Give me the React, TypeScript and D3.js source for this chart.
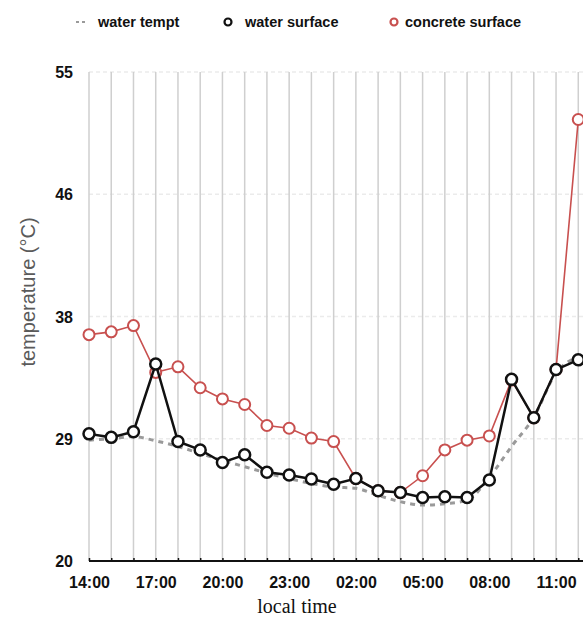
import React, { useEffect, useRef } from 'react';
import * as d3 from 'd3';

const hours = [
  '14:00', '15:00', '16:00', '17:00', '18:00', '19:00', '20:00', '21:00', '22:00', '23:00',
  '00:00', '01:00', '02:00', '03:00', '04:00', '05:00', '06:00', '07:00', '08:00', '09:00',
  '10:00', '11:00', '12:00',
];
const tickHours = ['14:00', '17:00', '20:00', '23:00', '02:00', '05:00', '08:00', '11:00'];
const yTicks = [20, 28.75, 37.5, 46.25, 55];

const waterTempt = [
  28.65, 28.75, 28.9, 28.6, 28.2, 27.7, 27.2, 26.75, 26.3, 25.9, 25.55, 25.3,
  25.2, 24.7, 24.25, 24.0, 24.1, 24.35, 26.0, 28.2, 30.3, 33.45, 34.6,
];
const waterSurface = [
  29.1, 28.85, 29.25, 34.1, 28.55, 27.95, 27.05, 27.6, 26.35, 26.15, 25.87, 25.5,
  25.9, 25.03, 24.9, 24.55, 24.6, 24.55, 25.8, 33.0, 30.25, 33.7, 34.4,
];
const concreteSurface = [
  36.2, 36.4, 36.85, 33.5, 33.9, 32.4, 31.6, 31.2, 29.7, 29.5, 28.8, 28.55,
  25.9, 25.03, 24.9, 26.1, 27.95, 28.65, 28.95, 32.95, 30.25, 33.7, 51.6,
];

const RED = '#c8504f';
const BLACK = '#111111';
const GREY = '#9a9a9a';

const App: React.FC = () => {
  const svgRef = useRef<SVGSVGElement | null>(null);

  useEffect(() => {
    if (!svgRef.current) return;
    const svg = d3.select(svgRef.current);
    svg.selectAll('*').remove();

    const width = 583;
    const height = 619;
    const margin = { top: 72, left: 89, bottom: 58 };
    const innerHeight = height - margin.top - margin.bottom;

    const x = d3.scalePoint<string>()
      .domain(hours)
      .range([margin.left, margin.left + 22.24 * (hours.length - 1)]);
    const y = d3.scaleLinear().domain([20, 55]).range([margin.top + innerHeight, margin.top]);

    const font = 'Liberation Sans, Arial, Helvetica, sans-serif';

    // horizontal faint gridlines
    svg.append('g')
      .selectAll('line')
      .data(yTicks.slice(1))
      .join('line')
      .attr('x1', margin.left)
      .attr('x2', width)
      .attr('y1', d => y(d))
      .attr('y2', d => y(d))
      .attr('stroke', '#ebebeb')
      .attr('stroke-width', 1.5)
      .attr('stroke-dasharray', '4,3');

    // vertical gridlines every hour
    svg.append('g')
      .selectAll('line')
      .data(hours)
      .join('line')
      .attr('x1', d => x(d)!)
      .attr('x2', d => x(d)!)
      .attr('y1', y(55))
      .attr('y2', y(20))
      .attr('stroke', '#cfcfcf')
      .attr('stroke-width', 1.5);

    // x axis
    const xAxis = svg.append('g')
      .attr('transform', `translate(0,${y(20)})`)
      .call(d3.axisBottom(x).tickSize(0).tickFormat(d => (tickHours.includes(d) ? d : '')));
    xAxis.select('.domain').remove();
    xAxis.append('line')
      .attr('x1', margin.left)
      .attr('x2', width)
      .attr('stroke', BLACK)
      .attr('stroke-width', 2);
    xAxis.selectAll('.tick')
      .append('line')
      .attr('y1', -3)
      .attr('y2', 0)
      .attr('stroke', BLACK)
      .attr('stroke-width', 1.5);
    xAxis.selectAll('text')
      .attr('dy', null)
      .attr('y', 27)
      .attr('fill', BLACK)
      .attr('font-family', font)
      .attr('font-weight', 'bold')
      .attr('font-size', 16);

    // y axis
    const yAxis = svg.append('g')
      .attr('transform', `translate(${margin.left},0)`)
      .call(d3.axisLeft(y).tickValues(yTicks).tickSize(0).tickFormat(d => String(Math.round(+d))));
    yAxis.select('.domain').remove();
    yAxis.selectAll('text')
      .attr('x', -16)
      .attr('dy', '0.35em')
      .attr('fill', BLACK)
      .attr('font-family', font)
      .attr('font-weight', 'bold')
      .attr('font-size', 16);

    // axis titles
    svg.append('text')
      .attr('transform', `translate(35,${292}) rotate(-90)`)
      .attr('text-anchor', 'middle')
      .attr('font-family', font)
      .attr('font-size', 20)
      .attr('fill', '#5a5a5a')
      .text('temperature (°C)');

    svg.append('text')
      .attr('x', 297)
      .attr('y', 613)
      .attr('text-anchor', 'middle')
      .attr('font-family', 'Liberation Serif, Times New Roman, serif')
      .attr('font-size', 20)
      .attr('fill', BLACK)
      .text('local time');

    // water tempt dashed curve
    const tempLine = d3.line<number>()
      .x((_, i) => x(hours[i])!)
      .y(d => y(d))
      .curve(d3.curveMonotoneX);
    svg.append('path')
      .datum(waterTempt)
      .attr('fill', 'none')
      .attr('stroke', GREY)
      .attr('stroke-width', 3)
      .attr('stroke-dasharray', '5,5')
      .attr('d', tempLine);

    const straight = d3.line<number>()
      .x((_, i) => x(hours[i])!)
      .y(d => y(d));

    // concrete surface
    svg.append('path')
      .datum(concreteSurface)
      .attr('fill', 'none')
      .attr('stroke', RED)
      .attr('stroke-width', 1.6)
      .attr('d', straight);
    svg.append('g')
      .selectAll('circle')
      .data(concreteSurface)
      .join('circle')
      .attr('cx', (_, i) => x(hours[i])!)
      .attr('cy', d => y(d))
      .attr('r', 5.5)
      .attr('fill', '#fff')
      .attr('stroke', RED)
      .attr('stroke-width', 2);

    // water surface
    svg.append('path')
      .datum(waterSurface)
      .attr('fill', 'none')
      .attr('stroke', BLACK)
      .attr('stroke-width', 2.5)
      .attr('d', straight);
    svg.append('g')
      .selectAll('circle')
      .data(waterSurface)
      .join('circle')
      .attr('cx', (_, i) => x(hours[i])!)
      .attr('cy', d => y(d))
      .attr('r', 5.5)
      .attr('fill', '#fff')
      .attr('stroke', BLACK)
      .attr('stroke-width', 2.5);

    // legend
    const legend = svg.append('g').attr('font-family', font).attr('font-size', 14.5).attr('font-weight', 'bold');
    legend.append('line')
      .attr('x1', 76).attr('x2', 88).attr('y1', 22).attr('y2', 22)
      .attr('stroke', GREY).attr('stroke-width', 2).attr('stroke-dasharray', '3,3');
    legend.append('text').attr('x', 98).attr('y', 27).attr('fill', BLACK).text('water tempt');
    legend.append('circle')
      .attr('cx', 228).attr('cy', 22).attr('r', 3.5)
      .attr('fill', '#fff').attr('stroke', BLACK).attr('stroke-width', 2.2);
    legend.append('text').attr('x', 245).attr('y', 27).attr('fill', BLACK).text('water surface');
    legend.append('circle')
      .attr('cx', 394).attr('cy', 22).attr('r', 3.5)
      .attr('fill', '#fff').attr('stroke', RED).attr('stroke-width', 2.2);
    legend.append('text').attr('x', 405).attr('y', 27).attr('fill', BLACK).text('concrete surface');
  }, []);

  return (
    <div style={{ position: 'absolute', left: 0, top: 0 }}>
      <svg ref={svgRef} width={583} height={619} style={{ display: 'block', background: '#fff' }} />
    </div>
  );
};

export default App;
